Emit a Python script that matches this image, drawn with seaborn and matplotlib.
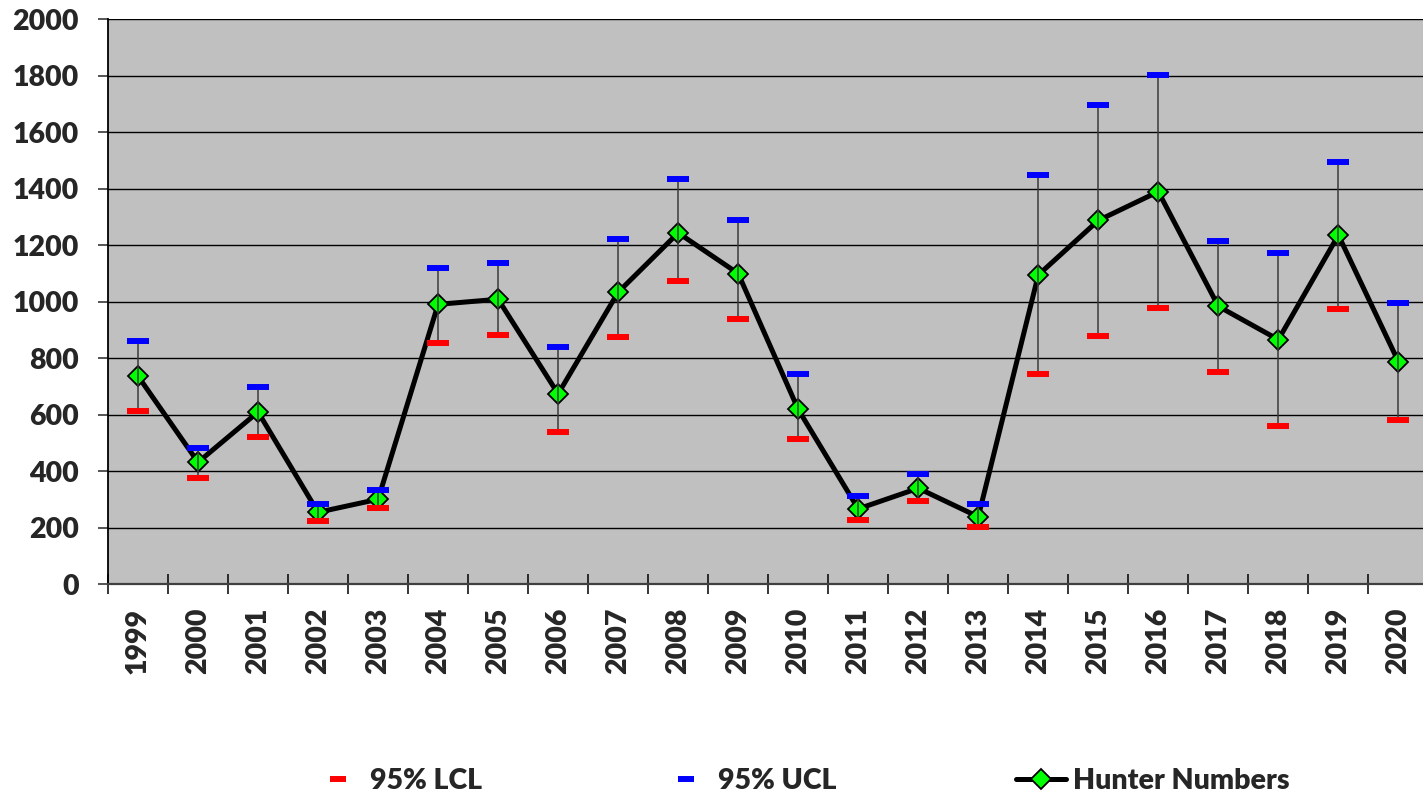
import matplotlib
matplotlib.use("Agg")
import matplotlib.pyplot as plt
from matplotlib.lines import Line2D
import seaborn as sns
import numpy as np

years = [str(y) for y in range(1999, 2021)]
hunters = [737, 432, 610, 255, 301, 991, 1009, 674, 1034, 1244, 1100,
           619, 267, 340, 239, 1095, 1288, 1390, 984, 866, 1236, 788]
ucl = [861, 484, 698, 283, 335, 1121, 1138, 840, 1223, 1436, 1290,
       744, 313, 390, 283, 1448, 1698, 1803, 1215, 1172, 1496, 997]
lcl = [612, 377, 520, 225, 269, 854, 881, 539, 874, 1075, 938,
       514, 228, 294, 202, 743, 879, 978, 753, 559, 976, 580]

sns.set_style("ticks")
plt.rcParams['font.family'] = ['Lato', 'DejaVu Sans']
plt.rcParams['font.weight'] = 'heavy'

fig = plt.figure(figsize=(14.23, 7.99), dpi=100)
ax = fig.add_axes([108 / 1423, 1 - 584.3 / 799, 1 - 108 / 1423, 565 / 799])
ax.set_facecolor('#C0C0C0')

x = np.arange(len(years))

# error bar stems
ax.vlines(x, lcl, ucl, color='#3a3a3a', lw=1.1, zorder=5)

# main series
sns.lineplot(x=x, y=hunters, ax=ax, color='black', lw=3.6, marker='D',
             markersize=10, markerfacecolor='#00FF00', markeredgecolor='black',
             markeredgewidth=1.3, zorder=4)

# confidence limits as caps
ax.plot(x, ucl, linestyle='none', marker='_', markersize=15.5, mew=4.3,
        color='#0000FF', zorder=6)
ax.plot(x, lcl, linestyle='none', marker='_', markersize=15.5, mew=4.3,
        color='#FF0000', zorder=6)

ax.set_xlim(-0.5, 21.41)
ax.set_ylim(0, 2000)
ax.set_yticks(range(0, 2001, 200))
ax.set_xticks(x)
ax.set_xticklabels(years, rotation=90)
ax.set_xticks(np.arange(-0.5, 21.5, 1), minor=True)
ax.tick_params(axis='x', which='major', length=0, pad=17, labelsize=20.5)
ax.tick_params(axis='x', which='minor', direction='inout', length=14.4,
               width=1.1, color='black')
ax.tick_params(axis='y', length=7.2, width=1.1, pad=14, labelsize=20.5)
for lab in ax.get_xticklabels() + ax.get_yticklabels():
    lab.set_fontweight('heavy')

ax.yaxis.grid(True, color='black', lw=1.0)
ax.xaxis.grid(False)
ax.set_axisbelow(True)
for s in ['top', 'right']:
    ax.spines[s].set_visible(False)
ax.spines['left'].set_color('black')
ax.spines['left'].set_linewidth(1.3)
ax.spines['bottom'].set_color('#404040')
ax.spines['bottom'].set_linewidth(1.6)
ax.set_xlabel('')
ax.set_ylabel('')

handles = [
    Line2D([], [], linestyle='none', marker='_', markersize=11, mew=4.3, color='#FF0000'),
    Line2D([], [], linestyle='none', marker='_', markersize=11, mew=4.3, color='#0000FF'),
    Line2D([], [], color='black', lw=3.6, marker='D', markersize=10,
           markerfacecolor='#00FF00', markeredgecolor='black', markeredgewidth=1.3),
]
fig.legend(handles, ['95% LCL', '95% UCL', 'Hunter Numbers'], loc='center',
           bbox_to_anchor=(0.563, 0.023), ncol=3, frameon=False,
           prop={'size': 20.5, 'weight': 'heavy'}, handlelength=1.75,
           handletextpad=0.25, columnspacing=6.3)

fig.savefig('out.png', dpi=100)
